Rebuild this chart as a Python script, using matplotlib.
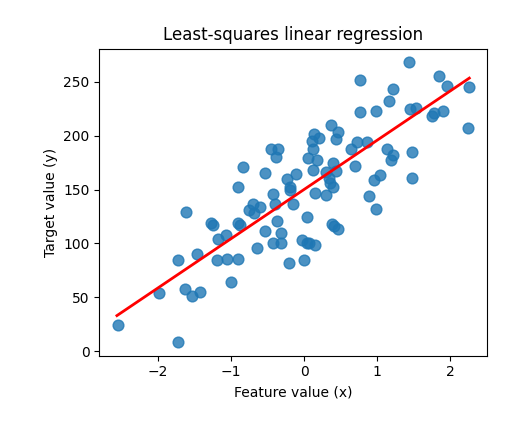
import matplotlib
matplotlib.use("Agg")
import matplotlib.pyplot as plt
import numpy as np

# values
feature_x = [-2.55, -1.73, -1.99, -1.63, -1.53, -1.43, -1.72, -1.62, -1.46, -1.27,
             -1.24, -1.18, -1.19, -1.07, -1.05, -0.90, -1.00, -0.91, -0.87, -0.91,
             -0.83, -0.75, -0.70, -0.68, -0.60, -0.65, -0.53, -0.53, -0.45, -0.36,
             -0.38, -0.42, -0.40, -0.37, -0.32, -0.42, -0.31, -0.23, -0.21, -0.11,
             -0.19, -0.19, -0.15, 0.00, -0.03, 0.04, 0.07, 0.15, 0.04, 0.15,
             0.30, 0.12, 0.06, 0.17, 0.12, 0.11, 0.14, 0.21, 0.30, 0.34,
             0.35, 0.40, 0.40, 0.44, 0.37, 0.46, 0.44, 0.38, 0.41, 0.46,
             0.64, 0.73, 0.70, 0.86, 0.76, 0.77, 0.98, 0.89, 0.95, 0.98,
             1.04, 1.13, 1.19, 1.22, 1.16, 1.22, 1.44, 1.45, 1.53, 1.48,
             1.48, 1.75, 1.78, 1.90, 1.85, 1.95, 2.26, 2.24]
target_y = [24.7, 8.7, 54, 58, 51, 55, 85, 129, 90, 119,
            117, 104, 85, 108, 86, 86, 64.5, 119, 117, 152,
            171, 131.5, 137, 128, 134, 96, 112, 165, 188, 188,
            180, 146, 137, 121, 110, 100, 100, 160, 82, 164.5,
            152, 150, 137, 85, 103, 100, 100, 99, 125, 146.5,
            145, 168, 179, 177.5, 188, 195, 202, 197.5, 166.7, 160.5,
            156, 152, 175, 167.6, 210, 203.7, 196.6, 118, 116.4, 113,
            187.4, 194.5, 172, 194.5, 221.7, 252, 223, 144, 159, 132,
            164, 187.7, 177.5, 182, 232, 243, 268, 225, 226, 184.6,
            160.5, 218.5, 220.7, 223, 255, 246, 245, 207]

# fitted line as drawn in the reference (end points)
fit_x = [-2.56, 2.26]
fit_y = [33.0, 253.5]


def main():
    x = np.array(feature_x)
    y = np.array(target_y)

    fig = plt.figure(figsize=(5.31, 4.22), dpi=100)
    fig.subplots_adjust(left=0.187, right=0.917, bottom=0.157, top=0.885)
    ax = fig.add_subplot(111)
    ax.scatter(x, y, s=60, alpha=0.8)
    ax.plot(fit_x, fit_y, color="red", linewidth=2)
    ax.set_title("Least-squares linear regression")
    ax.set_xlabel("Feature value (x)")
    ax.set_ylabel("Target value (y)")
    fig.savefig("out.png", dpi=100)


if __name__ == "__main__":
    main()
